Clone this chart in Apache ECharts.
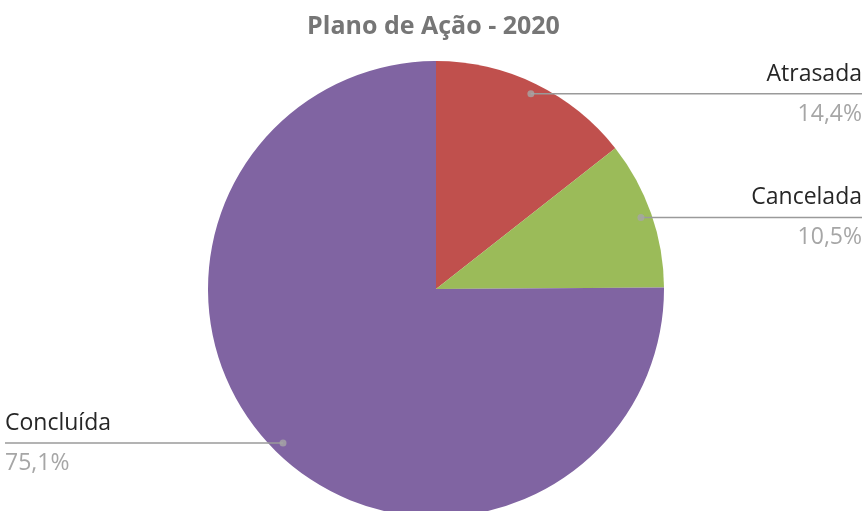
<!DOCTYPE html>
<html>
<head>
<meta charset="utf-8">
<script src="https://cdn.jsdelivr.net/npm/echarts@6/dist/echarts.min.js"></script>
<style>
html,body{margin:0;padding:0;background:#fff;}
#chart{width:867px;height:511px;}
</style>
</head>
<body>
<div id="chart"></div>
<script>
var titleText = 'Plano de Ação - 2020';
var categories = ['Atrasada', 'Cancelada', 'Concluída'];
var values = [14.4, 10.5, 75.1];
var colors = ['#C0504D', '#9BBB59', '#8064A2'];

var chart = echarts.init(document.getElementById('chart'));
var W = chart.getWidth();

var pieData = categories.map(function (c, i) {
  return { name: c, value: values[i], itemStyle: { color: colors[i] } };
});

var total = values.reduce(function (a, b) { return a + b; }, 0);
var cum = 0;
var dotData = values.map(function (v) {
  var mid = cum + v / 2;
  cum += v;
  return [0.952, mid / total * 100];
});

var center = [436, 289];
var fontFam = '"Open Sans", "Noto Sans", sans-serif';

chart.setOption({
  animation: false,
  backgroundColor: '#fff',
  title: {
    text: titleText,
    left: 'center',
    top: 9,
    textStyle: { fontFamily: fontFam, fontSize: 25, fontWeight: 'bold', color: '#767676' }
  },
  polar: { center: center, radius: 228 },
  angleAxis: { type: 'value', min: 0, max: 100, startAngle: 90, clockwise: true, show: false },
  radiusAxis: { type: 'value', min: 0, max: 1, show: false },
  series: [
    {
      type: 'pie',
      center: center,
      radius: 228,
      startAngle: 90,
      clockwise: true,
      silent: true,
      label: { show: false },
      labelLine: { show: false },
      data: pieData
    },
    {
      type: 'pie',
      center: center,
      radius: 217,
      startAngle: 90,
      clockwise: true,
      silent: true,
      z: 3,
      itemStyle: { color: 'rgba(0,0,0,0)' },
      data: categories.map(function (c, i) {
        return { name: c, value: values[i], itemStyle: { color: 'rgba(0,0,0,0)' } };
      }),
      label: {
        alignTo: 'edge',
        edgeDistance: 5,
        fontFamily: fontFam,
        formatter: function (p) {
          return '{name|' + p.name + '}\n{pct|' + p.percent.toFixed(1).replace('.', ',') + '%}';
        },
        rich: {
          name: { fontFamily: fontFam, fontSize: 23, color: '#262626', lineHeight: 41 },
          pct: { fontFamily: fontFam, fontSize: 23, color: '#a6a6a6', lineHeight: 39 }
        }
      },
      labelLine: {
        length: 0,
        length2: 10,
        lineStyle: { color: '#9a9a9a', width: 1.5 }
      },
      labelLayout: function (params) {
        var isLeft = params.labelRect.x < W / 2;
        var points = params.labelLinePoints;
        if (points) {
          points[2][0] = isLeft ? params.labelRect.x : params.labelRect.x + params.labelRect.width;
        }
        return { labelLinePoints: points };
      }
    },
    {
      type: 'scatter',
      coordinateSystem: 'polar',
      symbolSize: 7,
      silent: true,
      z: 4,
      itemStyle: { color: '#a6a6a6' },
      data: dotData
    }
  ]
});
</script>
</body>
</html>
